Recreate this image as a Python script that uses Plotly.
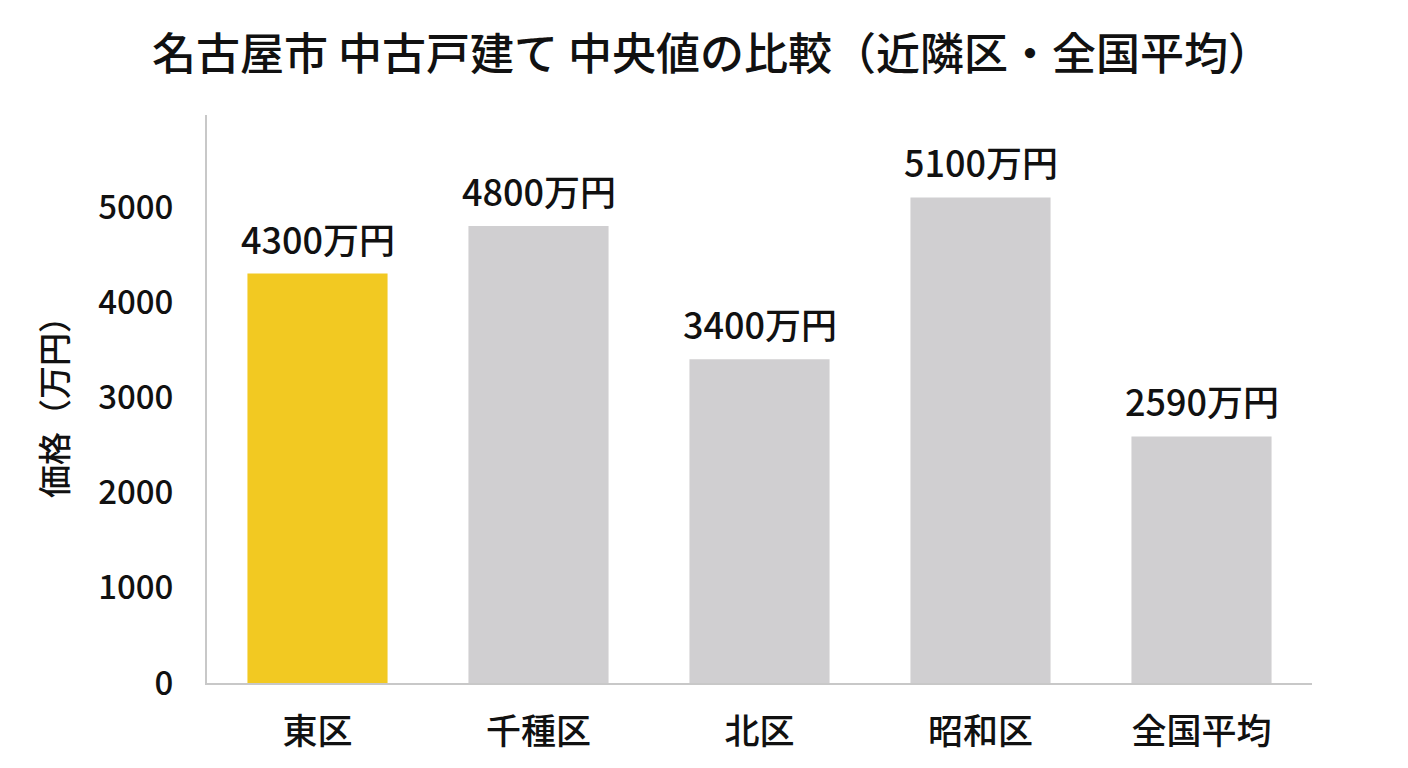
import plotly.graph_objects as go

# data
districts = ["東区", "千種区", "北区", "昭和区", "全国平均"]
prices = [4300, 4800, 3400, 5100, 2590]
price_labels = ["4300万円", "4800万円", "3400万円", "5100万円", "2590万円"]
bar_colors = ["#F2C922", "#D0CFD1", "#D0CFD1", "#D0CFD1", "#D0CFD1"]

font_family = "Noto Sans CJK JP"

fig = go.Figure()
fig.add_trace(go.Bar(
    x=districts,
    y=prices,
    marker=dict(color=bar_colors, line=dict(width=0)),
    hoverinfo="skip",
))

# value labels above the bars
for name, val, lab in zip(districts, prices, price_labels):
    fig.add_annotation(
        x=name, y=val, text=lab,
        showarrow=False, yanchor="bottom", yshift=8,
        font=dict(family=font_family, size=36, color="#111111", weight=500),
    )

# page has an 8px body margin, so margins are shifted by that
fig.update_layout(
    width=1408, height=768,
    margin=dict(l=199, r=104, t=107, b=93),
    paper_bgcolor="white", plot_bgcolor="white",
    bargap=0.366,
    showlegend=False,
    font=dict(family=font_family, color="#111111"),
    title=dict(
        text="名古屋市 中古戸建て 中央値の比較（近隣区・全国平均）",
        x=0.5, xanchor="center", y=0.939, yanchor="middle",
        font=dict(family=font_family, size=44, color="#111111", weight=500),
    ),
)
fig.update_xaxes(
    showline=True, linecolor="#C8C8C8", linewidth=2,
    showgrid=False, ticks="", ticklabelstandoff=17,
    tickfont=dict(family=font_family, size=35, color="#111111", weight=500),
)
fig.update_yaxes(
    range=[0, 5966],
    tickvals=[0, 1000, 2000, 3000, 4000, 5000],
    showline=True, linecolor="#C8C8C8", linewidth=2,
    showgrid=False, zeroline=False, ticks="", ticklabelstandoff=25,
    tickfont=dict(family=font_family, size=33, color="#111111", weight=500),
    title=dict(text="価格（万円）", standoff=21,
               font=dict(family=font_family, size=33, color="#111111", weight=500)),
)

fig.write_html("out.html")
